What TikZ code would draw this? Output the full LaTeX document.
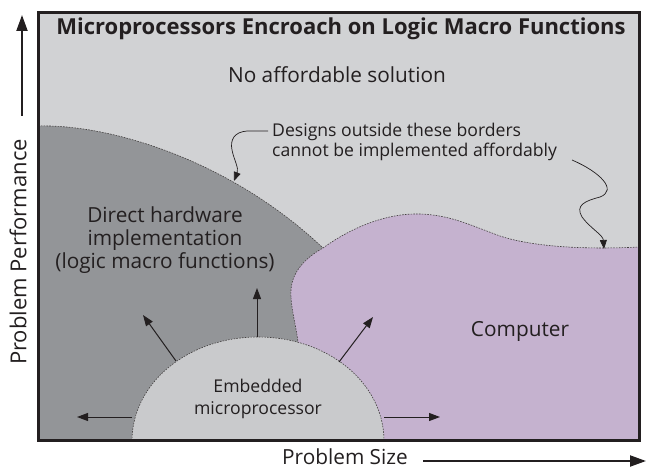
\documentclass[tikz,border=0pt]{standalone}
\usepackage{fontspec}
\setmainfont{Open Sans}
\usetikzlibrary{arrows.meta}
\definecolor{bgGray}{RGB}{209,210,212}
\definecolor{hwGray}{RGB}{147,149,152}
\definecolor{cpuPurple}{RGB}{197,178,207}
\definecolor{embGray}{RGB}{201,202,204}
\definecolor{ink}{RGB}{35,31,32}
\begin{document}
\begin{tikzpicture}[x=1pt,y=-1pt,
  regionborder/.style={draw=ink!85, line width=0.6pt, dash pattern=on 1.6pt off 1.2pt},
  pointer/.style={draw=ink, line width=1pt, -{Triangle[length=11pt,width=8pt]}},
  squiggle/.style={draw=ink, line width=0.7pt, -{Triangle[length=9pt,width=7pt]}},
  axisarrow/.style={draw=ink, line width=2pt, -{Triangle[length=16pt,width=11pt]}},
  lbl/.style={text=ink, align=center, inner sep=0pt},
  bigtext/.style={font=\fontsize{20.8}{23}\selectfont},
  smalltext/.style={font=\fontsize{17.6}{20}\selectfont}]
\useasboundingbox (0,0) rectangle (647,468);

% plane background
\fill[bgGray] (38.5,12.5) rectangle (639.5,440.5);

% direct hardware region
\fill[hwGray] (38,126) .. controls (110,124) and (230,160) .. (323,248)
  -- (330,441) -- (38,441) -- cycle;

% computer region
\fill[cpuPurple] (323,248) .. controls (355,225) and (390,213) .. (420,214)
  .. controls (450,215) and (470,225) .. (500,236)
  .. controls (530,246) and (580,250) .. (640,247)
  -- (640,441) -- (298,441) -- (298,342)
  .. controls (296,325) and (290,305) .. (291,290)
  .. controls (292,272) and (305,258) .. (323,248) -- cycle;

% embedded microprocessor half ellipse
\fill[embGray] (132,441) .. controls (132,383) and (188,337) .. (258,337)
  .. controls (328,337) and (384,383) .. (384,441) -- cycle;

% dashed borders
\draw[regionborder] (38,126) .. controls (110,124) and (230,160) .. (323,248);
\draw[regionborder] (640,247) .. controls (580,250) and (530,246) .. (500,236)
  .. controls (470,225) and (450,215) .. (420,214)
  .. controls (390,213) and (355,225) .. (323,248)
  .. controls (305,258) and (292,272) .. (291,290)
  .. controls (290,305) and (296,325) .. (298,342);
\draw[regionborder] (132,441) .. controls (132,383) and (188,337) .. (258,337)
  .. controls (328,337) and (384,383) .. (384,441);

% frame
\draw[ink, line width=2.4pt] (38.5,12.5) rectangle (639.5,440.5);

% texts
\node[lbl, font=\bfseries\fontsize{22}{26}\selectfont] (title) at (341,29) {Microprocessors Encroach on Logic Macro Functions};
\node[lbl, bigtext] (noaff) at (337,75) {No affordable solution};
\node[lbl, smalltext, align=left, anchor=west] (note) at (272,142) {Designs outside these borders\\cannot be implemented affordably};
\node[lbl, bigtext] (hw) at (165,240) {Direct hardware\\implementation\\(logic macro functions)};
\node[lbl, bigtext] (cpu) at (520,331) {Computer};
\node[lbl, font=\fontsize{17.6}{22}\selectfont] (emb) at (258,399) {Embedded\\microprocessor};
\node[lbl, font=\fontsize{22}{25}\selectfont, rotate=90] (yl) at (18,252) {Problem Performance};
\node[lbl, bigtext, anchor=base] (xl) at (345,464) {Problem Size};

% axis arrows
\coordinate (ya) at (22,116);
\coordinate (yb) at (22,15);
\coordinate (xa) at (423,461);
\coordinate (xb) at (646,461);
\draw[axisarrow] (ya) -- (yb);
\draw[axisarrow] (xa) -- (xb);

% growth arrows around the embedded region
\coordinate (eL) at (132,417);
\coordinate (tL) at (77,417);
\coordinate (eR) at (384,417);
\coordinate (tR) at (440,417);
\coordinate (eUL) at (176,361);
\coordinate (tUL) at (143,315);
\coordinate (eU) at (257,337);
\coordinate (tU) at (257,288);
\coordinate (eUR) at (339,362);
\coordinate (tUR) at (373,317);
\draw[pointer] (eL) -- (tL);
\draw[pointer] (eR) -- (tR);
\draw[pointer] (eUL) -- (tUL);
\draw[pointer] (eU) -- (tU);
\draw[pointer] (eUR) -- (tUR);

% callout squiggles
\coordinate (s1a) at (268,131);
\coordinate (s1b) at (234,181);
\coordinate (s2a) at (572,160);
\coordinate (s2b) at (604,249);
\draw[squiggle] (s1a) -- (247,131) .. controls (234,132) and (230,140) .. (232,150)
  .. controls (234,160) and (239,168) .. (s1b);
\draw[squiggle] (s2a) .. controls (600,172) and (618,190) .. (600,197)
  .. controls (585,201) and (575,205) .. (582,217)
  .. controls (590,228) and (603,235) .. (s2b);
\end{tikzpicture}
\end{document}
